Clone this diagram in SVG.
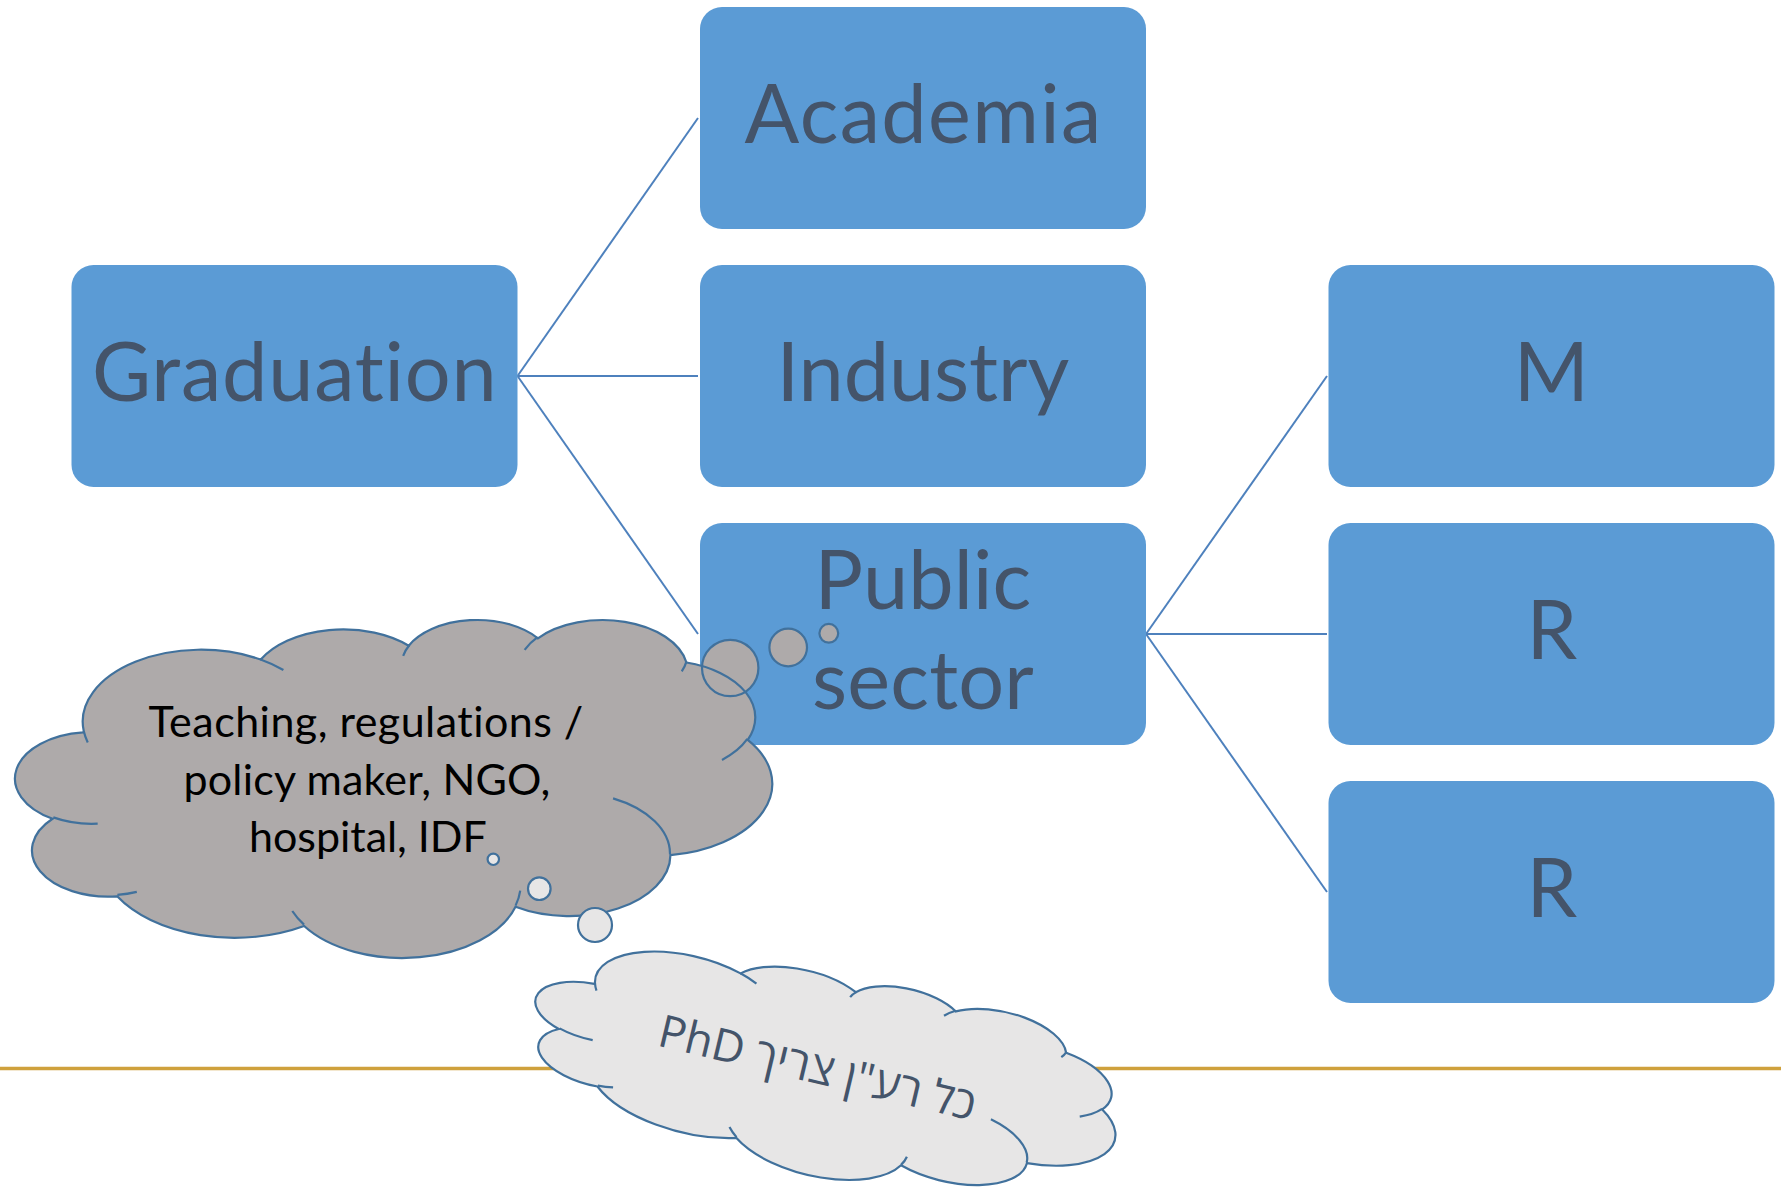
<svg xmlns="http://www.w3.org/2000/svg" width="1781" height="1189" viewBox="0 0 1781 1189">
<defs>
<style>
text{font-variant-ligatures:none;font-feature-settings:"liga" 0,"clig" 0,"dlig" 0,"calt" 0;letter-spacing:0.2px}
.box{fill:#5B9BD5}
.lbl{font-family:Lato,'Liberation Sans',sans-serif;font-size:81px;fill:#44546A;text-anchor:middle}
.conn{stroke:#4E81BD;stroke-width:2;fill:none}
.ol{fill:none;stroke:#41719C;stroke-width:2.2}
.c1{fill:#AEAAAA}
.c2{fill:#E7E6E6}
.t1{font-family:Lato,'Liberation Sans',sans-serif;font-size:43px;fill:#000000;text-anchor:middle}
.t2{font-family:'Open Sans','Liberation Sans','DejaVu Sans',sans-serif;font-size:45px;fill:#44546A;text-anchor:middle;letter-spacing:0}
</style>
<path id="cloud" vector-effect="non-scaling-stroke" d="M3900 14370 A6753 9190 0 0 1 14005.6 5202.4 A5333 7267 0 0 1 22457.6 3430.9 A4365 5945 0 0 1 29834.5 2478.7 A4857 6595 0 0 1 38319.4 5574.3 A5333 7273 0 0 1 41819.6 15457.7 A6775 9220 0 0 1 37406.3 30202.4 A5785 7867 0 0 1 28558.2 36812.8 A6752 9215 0 0 1 16484.1 39267 A7720 10543 0 0 1 5808.4 35472.9 A4360 5918 0 0 1 2117.6 25550.4 A4345 5945 0 0 1 3868.2 14507.1 Z"/>
<path id="cloudIn" vector-effect="non-scaling-stroke" d="M4693 26177 A4345 5945 0 0 1 2159.3 25379.6 M6928 34899 A4360 5918 0 0 1 5819.5 35280.5 M16478 39090 A6752 9215 0 0 1 15808.8 37346.7 M28827 34751 A6752 9215 0 0 1 28560.4 36659.9 M34129 22954 A5785 7867 0 0 1 37380.1 30089.4 M41798 15354 A5333 7273 0 0 1 40350.1 18030.1 M38324 5426 A4857 6595 0 0 1 38051.1 6714.8 M29078 3952 A4857 6595 0 0 1 29819.9 2340.6 M22141 4720 A4365 5945 0 0 1 22500 3330.7 M14000 5192 A6753 9190 0 0 1 15300.2 6541.1 M4127 15789 A6753 9190 0 0 1 3900.4 14371.1"/>
</defs>
<rect width="1781" height="1189" fill="#FFFFFF"/>
<line id="goldline" x1="0" y1="1068.5" x2="1781" y2="1068.5" stroke="#CFA13C" stroke-width="3.5"/>
<g id="connectors" class="conn">
<path d="M517.5 376 L698 118"/>
<path d="M517.5 376 L698 376"/>
<path d="M517.5 376 L698 634"/>
<path d="M1146 634 L1327 376"/>
<path d="M1146 634 L1327 634"/>
<path d="M1146 634 L1327 892"/>
</g>
<g id="graduation"><rect class="box" x="71.5" y="265" width="446" height="222" rx="22"/><text class="lbl" x="294.5" y="401" textLength="405">Graduation</text></g>
<g id="academia"><rect class="box" x="700" y="7" width="446" height="222" rx="22"/><text class="lbl" x="923" y="143" textLength="357">Academia</text></g>
<g id="industry"><rect class="box" x="700" y="265" width="446" height="222" rx="22"/><text class="lbl" x="923" y="401" textLength="293">Industry</text></g>
<g id="public-sector"><rect class="box" x="700" y="523" width="446" height="222" rx="22"/><text class="lbl" x="923" y="609" textLength="217">Public</text><text class="lbl" x="923" y="709" textLength="222">sector</text></g>
<g id="m"><rect class="box" x="1328.5" y="265" width="446" height="222" rx="22"/><text class="lbl" x="1551.5" y="401">M</text></g>
<g id="r1"><rect class="box" x="1328.5" y="523" width="446" height="222" rx="22"/><text class="lbl" x="1552" y="659">R</text></g>
<g id="r2"><rect class="box" x="1328.5" y="781" width="446" height="222" rx="22"/><text class="lbl" x="1552" y="917">R</text></g>
<g id="cloud1">
<use href="#cloud" class="c1" transform="translate(15.5,618.9) scale(0.017509,0.007821)"/>
<circle class="c1" cx="730.2" cy="668" r="28.2"/>
<circle class="c1" cx="788.2" cy="647.5" r="18.8"/>
<circle class="c1" cx="828.8" cy="633.3" r="9.4"/>
<use href="#cloud" class="ol" transform="translate(15.5,618.9) scale(0.017509,0.007821)"/>
<use href="#cloudIn" class="ol" transform="translate(15.5,618.9) scale(0.017509,0.007821)"/>
<circle class="ol" cx="730.2" cy="668" r="28.2"/>
<circle class="ol" cx="788.2" cy="647.5" r="18.8"/>
<circle class="ol" cx="828.8" cy="633.3" r="9.4"/>
<text class="t1" x="366" y="737" textLength="435">Teaching, regulations /</text>
<text class="t1" x="367" y="794.5" textLength="367">policy maker, NGO,</text>
<text class="t1" x="368" y="852" textLength="238">hospital, IDF</text>
</g>
<g id="cloud2">
<use href="#cloud" class="c2" transform="translate(824.4,1073.1) rotate(13.4) scale(0.013784,0.00473) translate(-21600,-21600)"/>
<circle class="c2" cx="595" cy="925" r="17"/>
<circle class="c2" cx="539.3" cy="888.7" r="11.3"/>
<circle class="c2" cx="493.3" cy="859.3" r="5.7"/>
<use href="#cloud" class="ol" transform="translate(824.4,1073.1) rotate(13.4) scale(0.013784,0.00473) translate(-21600,-21600)"/>
<use href="#cloudIn" class="ol" transform="translate(824.4,1073.1) rotate(13.4) scale(0.013784,0.00473) translate(-21600,-21600)"/>
<circle class="ol" cx="595" cy="925" r="17"/>
<circle class="ol" cx="539.3" cy="888.7" r="11.3"/>
<circle class="ol" cx="493.3" cy="859.3" r="5.7"/>
<text class="t2" direction="rtl" x="-8" y="12" transform="translate(824.4,1073.1) rotate(13.4)">כל רע&quot;ן צריך PhD</text>
</g>
</svg>
